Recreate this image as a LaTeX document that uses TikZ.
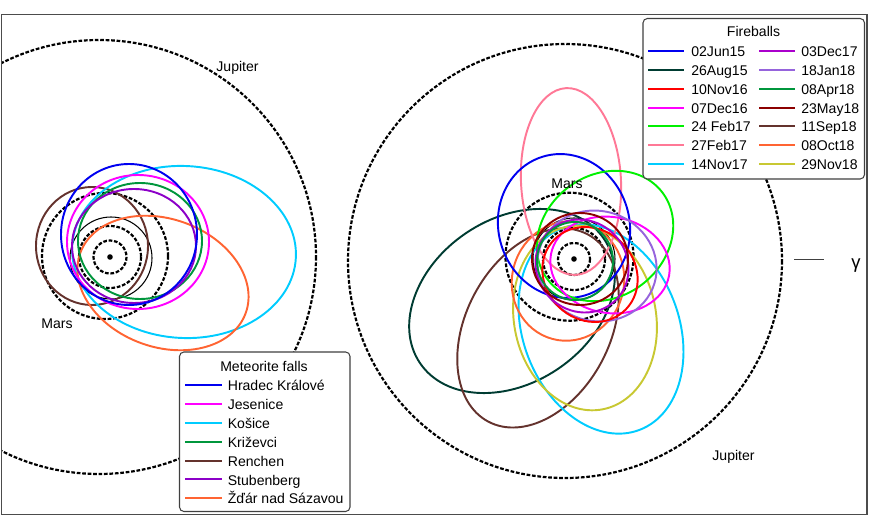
\documentclass[tikz,border=0pt]{standalone}
\usepackage{fontspec}
\setmainfont{Liberation Sans}
\definecolor{cBlue}{RGB}{0,0,240}
\definecolor{cMag}{RGB}{255,0,255}
\definecolor{cCyan}{RGB}{0,204,255}
\definecolor{cGreen}{RGB}{0,150,60}
\definecolor{cBrown}{RGB}{100,50,45}
\definecolor{cStub}{RGB}{140,0,200}
\definecolor{cOrange}{RGB}{255,100,50}
\definecolor{cTeal}{RGB}{0,60,50}
\definecolor{cRed}{RGB}{255,0,0}
\definecolor{cLime}{RGB}{0,240,0}
\definecolor{cPink}{RGB}{255,120,150}
\definecolor{cViolet}{RGB}{170,0,204}
\definecolor{cLav}{RGB}{150,100,220}
\definecolor{cDkRed}{RGB}{140,0,0}
\definecolor{cOlive}{RGB}{200,200,50}
\begin{document}
\begin{tikzpicture}[x=0.02cm,y=-0.02cm,font=\fontsize{8}{9.6}\selectfont,
  orb/.style={line width=1.1pt},
  planet/.style={line width=1.25pt,dash pattern=on 2.1pt off 1pt},
  earthorb/.style={line width=0.6pt},
  legbox/.style={draw=black!75,line width=0.6pt,rounded corners=2.5pt,fill=white},
  lab/.style={anchor=base west,inner sep=0pt},
  ttl/.style={anchor=base,inner sep=0pt},
  legline/.style={line width=1.1pt}]
\useasboundingbox (0,0) rectangle (872,523);
\begin{scope}
\clip (1.5,14.5) rectangle (867,514.5);
% ---------- left panel ----------
\coordinate (sunL) at (110,257);
\draw[planet] (99,257) circle [radius=217];
\draw[planet] (105,256) circle [radius=63];
\draw[planet] (sunL) circle [radius=31];
\draw[planet] (sunL) circle [radius=16.5];
\draw[earthorb] (111,258) circle [radius=41];
\fill (sunL) circle [radius=2.8];
\draw[orb,cBrown] (92,246) ellipse [x radius=56,y radius=59];
\draw[orb,cCyan,rotate around={-3:(184,252)}] (184,252) ellipse [x radius=112,y radius=86];
\draw[orb,cOrange,rotate around={-20:(163,283)}] (163,283) ellipse [x radius=88,y radius=64];
\draw[orb,cMag] (138,242) ellipse [x radius=71,y radius=67];
\draw[orb,cGreen] (140,241) ellipse [x radius=62,y radius=58];
\draw[orb,cStub] (134,246) ellipse [x radius=62,y radius=57];
\draw[orb,cBlue] (129,234.5) ellipse [x radius=68,y radius=70.5];
\node[ttl] (marsL) at (57,328.3) {Mars};
\node[ttl] (jupL) at (237.5,72) {Jupiter};
% ---------- right panel ----------
\coordinate (sunR) at (574,259);
\draw[planet] (565,261) circle [radius=217];
\draw[planet] (569.5,256.7) circle [radius=64];
\draw[planet] (sunR) circle [radius=31];
\draw[planet] (sunR) circle [radius=16];
\draw[earthorb] (sunR) circle [radius=41];
\fill (sunR) circle [radius=2.8];
\draw[orb,cTeal,rotate around={34:(512,301)}] (512,301) ellipse [x radius=111,y radius=82];
\draw[orb,cBrown,rotate around={62:(538,328)}] (538,328) ellipse [x radius=106,y radius=72];
\draw[orb,cCyan,rotate around={111:(601,329)}] (601,329) ellipse [x radius=108,y radius=78];
\draw[orb,cOlive,rotate around={101:(585,318)}] (585,318) ellipse [x radius=93,y radius=71];
\draw[orb,cOrange,rotate around={75:(568,281)}] (568,281) ellipse [x radius=60,y radius=56];
\draw[orb,cPink,rotate around={93:(571,181.5)}] (571,181.5) ellipse [x radius=93.5,y radius=50];
\draw[orb,cBlue,rotate around={107:(564,226)}] (564,226) ellipse [x radius=72.5,y radius=65.5];
\draw[orb,cLime,rotate around={37:(605,236)}] (605,236) ellipse [x radius=72,y radius=61];
\draw[orb,cMag,rotate around={-10:(610,265)}] (610,265) ellipse [x radius=60,y radius=48];
\draw[orb,cLav,rotate around={-17:(597,266)}] (597,266) ellipse [x radius=60,y radius=55];
\draw[orb,cRed,rotate around={-44:(590,274.5)}] (590,274.5) ellipse [x radius=50,y radius=45];
\draw[orb,cViolet,rotate around={-45:(582,266)}] (582,266) ellipse [x radius=48,y radius=45];
\draw[orb,cDkRed] (580,259) ellipse [x radius=48,y radius=46];
\draw[orb,cGreen] (575,261) ellipse [x radius=38,y radius=39];
\node[ttl] (marsR) at (567,189) {Mars};
\node[ttl] (jupR) at (733.5,460.5) {Jupiter};
% gamma direction
\coordinate (g1) at (794,259.5);
\coordinate (g2) at (824,259.5);
\draw[line width=0.6pt,black!75] (g1) -- (g2);
\node[ttl,font=\fontsize{10.5}{12}\selectfont] (gam) at (856,268.5) {γ};
% ---------- legends ----------
\draw[legbox] (643,18.5) rectangle (864.5,179);
\node[ttl] (fbt) at (753.5,37) {Fireballs};
\foreach \t/\c [count=\i from 0] in {02Jun15/cBlue,26Aug15/cTeal,10Nov16/cRed,07Dec16/cMag,24 Feb17/cLime,27Feb17/cPink,14Nov17/cCyan}{
  \draw[legline,\c] (648,51+18.85*\i) -- (684,51+18.85*\i);
  \node[lab] (fa\i) at (691,56.5+18.85*\i) {\t};
}
\foreach \t/\c [count=\i from 0] in {03Dec17/cViolet,18Jan18/cLav,08Apr18/cGreen,23May18/cDkRed,11Sep18/cBrown,08Oct18/cOrange,29Nov18/cOlive}{
  \draw[legline,\c] (759,51+18.85*\i) -- (795,51+18.85*\i);
  \node[lab] (fb\i) at (801,56.5+18.85*\i) {\t};
}
\draw[legbox] (179.5,352) rectangle (350,511.5);
\node[ttl] (mft) at (264,371.5) {Meteorite falls};
\draw[legline,cBlue] (185,385) -- (222,385);
\node[lab] (mf0) at (227.5,390.5) {Hradec Králové};
\draw[legline,cMag] (185,403.9) -- (222,403.9);
\node[lab] (mf1) at (227.5,409.4) {Jesenice};
\draw[legline,cCyan] (185,422.8) -- (222,422.8);
\node[lab] (mf2) at (227.5,428.3) {Košice};
\draw[legline,cGreen] (185,441.7) -- (222,441.7);
\node[lab] (mf3) at (227.5,447.2) {Križevci};
\draw[legline,cBrown] (185,460.6) -- (222,460.6);
\node[lab] (mf4) at (227.5,466.1) {Renchen};
\fill[cStub] (185,478.4) rectangle (222,480.4);
\node[lab] (mf5) at (227.5,485) {Stubenberg};
\draw[legline,cOrange] (185,498.4) -- (222,498.4);
\node[lab] (mf6) at (227.5,503.9) {Žďár nad Sázavou};
\end{scope}
\draw[black!70,line width=0.8pt] (1.5,14.5) rectangle (867,514.5);
\end{tikzpicture}
\end{document}
